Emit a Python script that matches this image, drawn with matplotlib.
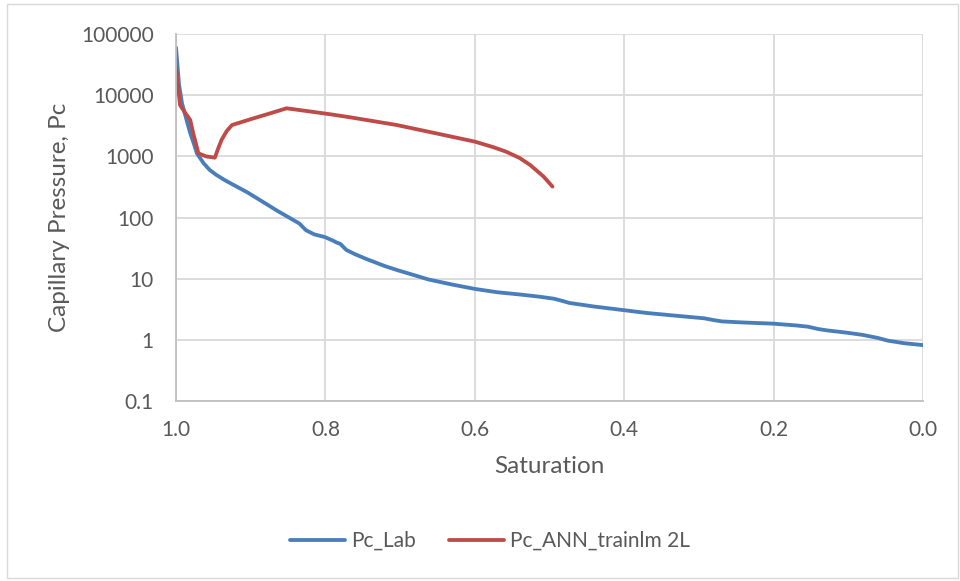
import matplotlib.pyplot as plt
import numpy as np
from matplotlib.patches import Rectangle
from matplotlib.ticker import FixedLocator, FuncFormatter

plt.rcParams['font.family'] = ['Lato', 'DejaVu Sans']

# lab measured capillary pressure
sat_lab = [1.0, 0.996, 0.992, 0.986, 0.981, 0.976, 0.972, 0.963, 0.955, 0.946,
           0.935, 0.923, 0.905, 0.888, 0.865, 0.843, 0.835, 0.826, 0.815, 0.801,
           0.79, 0.785, 0.78, 0.772, 0.76, 0.744, 0.72, 0.703, 0.68, 0.662,
           0.63, 0.6, 0.57, 0.539, 0.515, 0.494, 0.485, 0.473, 0.44, 0.4,
           0.37, 0.334, 0.293, 0.28, 0.269, 0.24, 0.201, 0.17, 0.154, 0.14,
           0.129, 0.1, 0.08, 0.06, 0.047, 0.025, 0.0]
pc_lab = [60000, 15000, 7400, 4000, 2400, 1600, 1120, 770, 600, 497,
          410, 341, 260, 194, 130, 91, 80, 62, 53, 48,
          42, 39, 37, 29.5, 25, 20.7, 16, 13.7, 11.3, 9.7,
          8, 6.8, 6.0, 5.5, 5.1, 4.7, 4.4, 4.0, 3.5, 3.05,
          2.75, 2.5, 2.25, 2.1, 2.0, 1.92, 1.84, 1.72, 1.64, 1.5,
          1.43, 1.3, 1.2, 1.07, 0.97, 0.88, 0.82]

# ANN (trainlm, 2 layers) prediction
sat_ann = [1.0, 0.9946, 0.988, 0.981, 0.977, 0.970, 0.960, 0.948, 0.944, 0.939,
           0.932, 0.925, 0.90, 0.875, 0.852, 0.82, 0.794, 0.767, 0.705, 0.65,
           0.6, 0.575, 0.558, 0.54, 0.526, 0.508, 0.496]
pc_ann = [29000, 6900, 5200, 3940, 2400, 1120, 1000, 950, 1300, 1860,
          2600, 3250, 4050, 5000, 6100, 5400, 4880, 4350, 3260, 2350,
          1740, 1410, 1190, 940, 724, 468, 320]

yticks = [0.1, 1, 10, 100, 1000, 10000, 100000]
xticks = [1.0, 0.8, 0.6, 0.4, 0.2, 0.0]

grey = '#595959'
fig = plt.figure(figsize=(9.6, 5.81), dpi=100)
ax = fig.add_axes([176/960, 1-401/581, (923-176)/960, (401-34)/581])

ax.plot(sat_lab, pc_lab, color='#4a7ebb', lw=2.75, label='Pc_Lab', solid_capstyle='round')
ax.plot(sat_ann, pc_ann, color='#be4b48', lw=2.75, label='Pc_ANN_trainlm 2L', solid_capstyle='round')

ax.set_yscale('log')
ax.set_ylim(0.1, 100000)
ax.set_xlim(1.0, 0.0)
ax.yaxis.set_major_locator(FixedLocator(yticks))
ax.yaxis.set_minor_locator(FixedLocator([]))
ax.yaxis.set_major_formatter(FuncFormatter(lambda v, p: ('%g' % v) if v < 1 else '%d' % round(v)))
ax.xaxis.set_major_locator(FixedLocator(xticks))
ax.xaxis.set_major_formatter(FuncFormatter(lambda v, p: '%.1f' % v))

ax.grid(True, color='#d9d9d9', lw=1.3)
ax.set_axisbelow(True)
for s in ['top', 'right']:
    ax.spines[s].set_visible(False)
for s in ['left', 'bottom']:
    ax.spines[s].set_color('#bfbfbf')
    ax.spines[s].set_linewidth(1.3)
ax.tick_params(length=0, labelsize=15, colors=grey)
ax.tick_params(axis='y', pad=16)
ax.tick_params(axis='x', pad=14)

ax.set_xlabel('Saturation', fontsize=17.5, color=grey, labelpad=11)
ax.set_ylabel('Capillary Pressure, Pc', fontsize=17.5, color=grey, labelpad=8)

fig.legend(loc='center', bbox_to_anchor=(0.5104, 1-541/581), ncol=2, frameon=False,
           fontsize=15, handlelength=2.64, handletextpad=0.25, columnspacing=1.63,
           labelcolor=grey)

fig.patches.append(Rectangle((7/960, 3/581), 951/960, 574/581, transform=fig.transFigure,
                             fill=False, edgecolor='#d9d9d9', lw=1))

fig.savefig('out.png', dpi=100)
